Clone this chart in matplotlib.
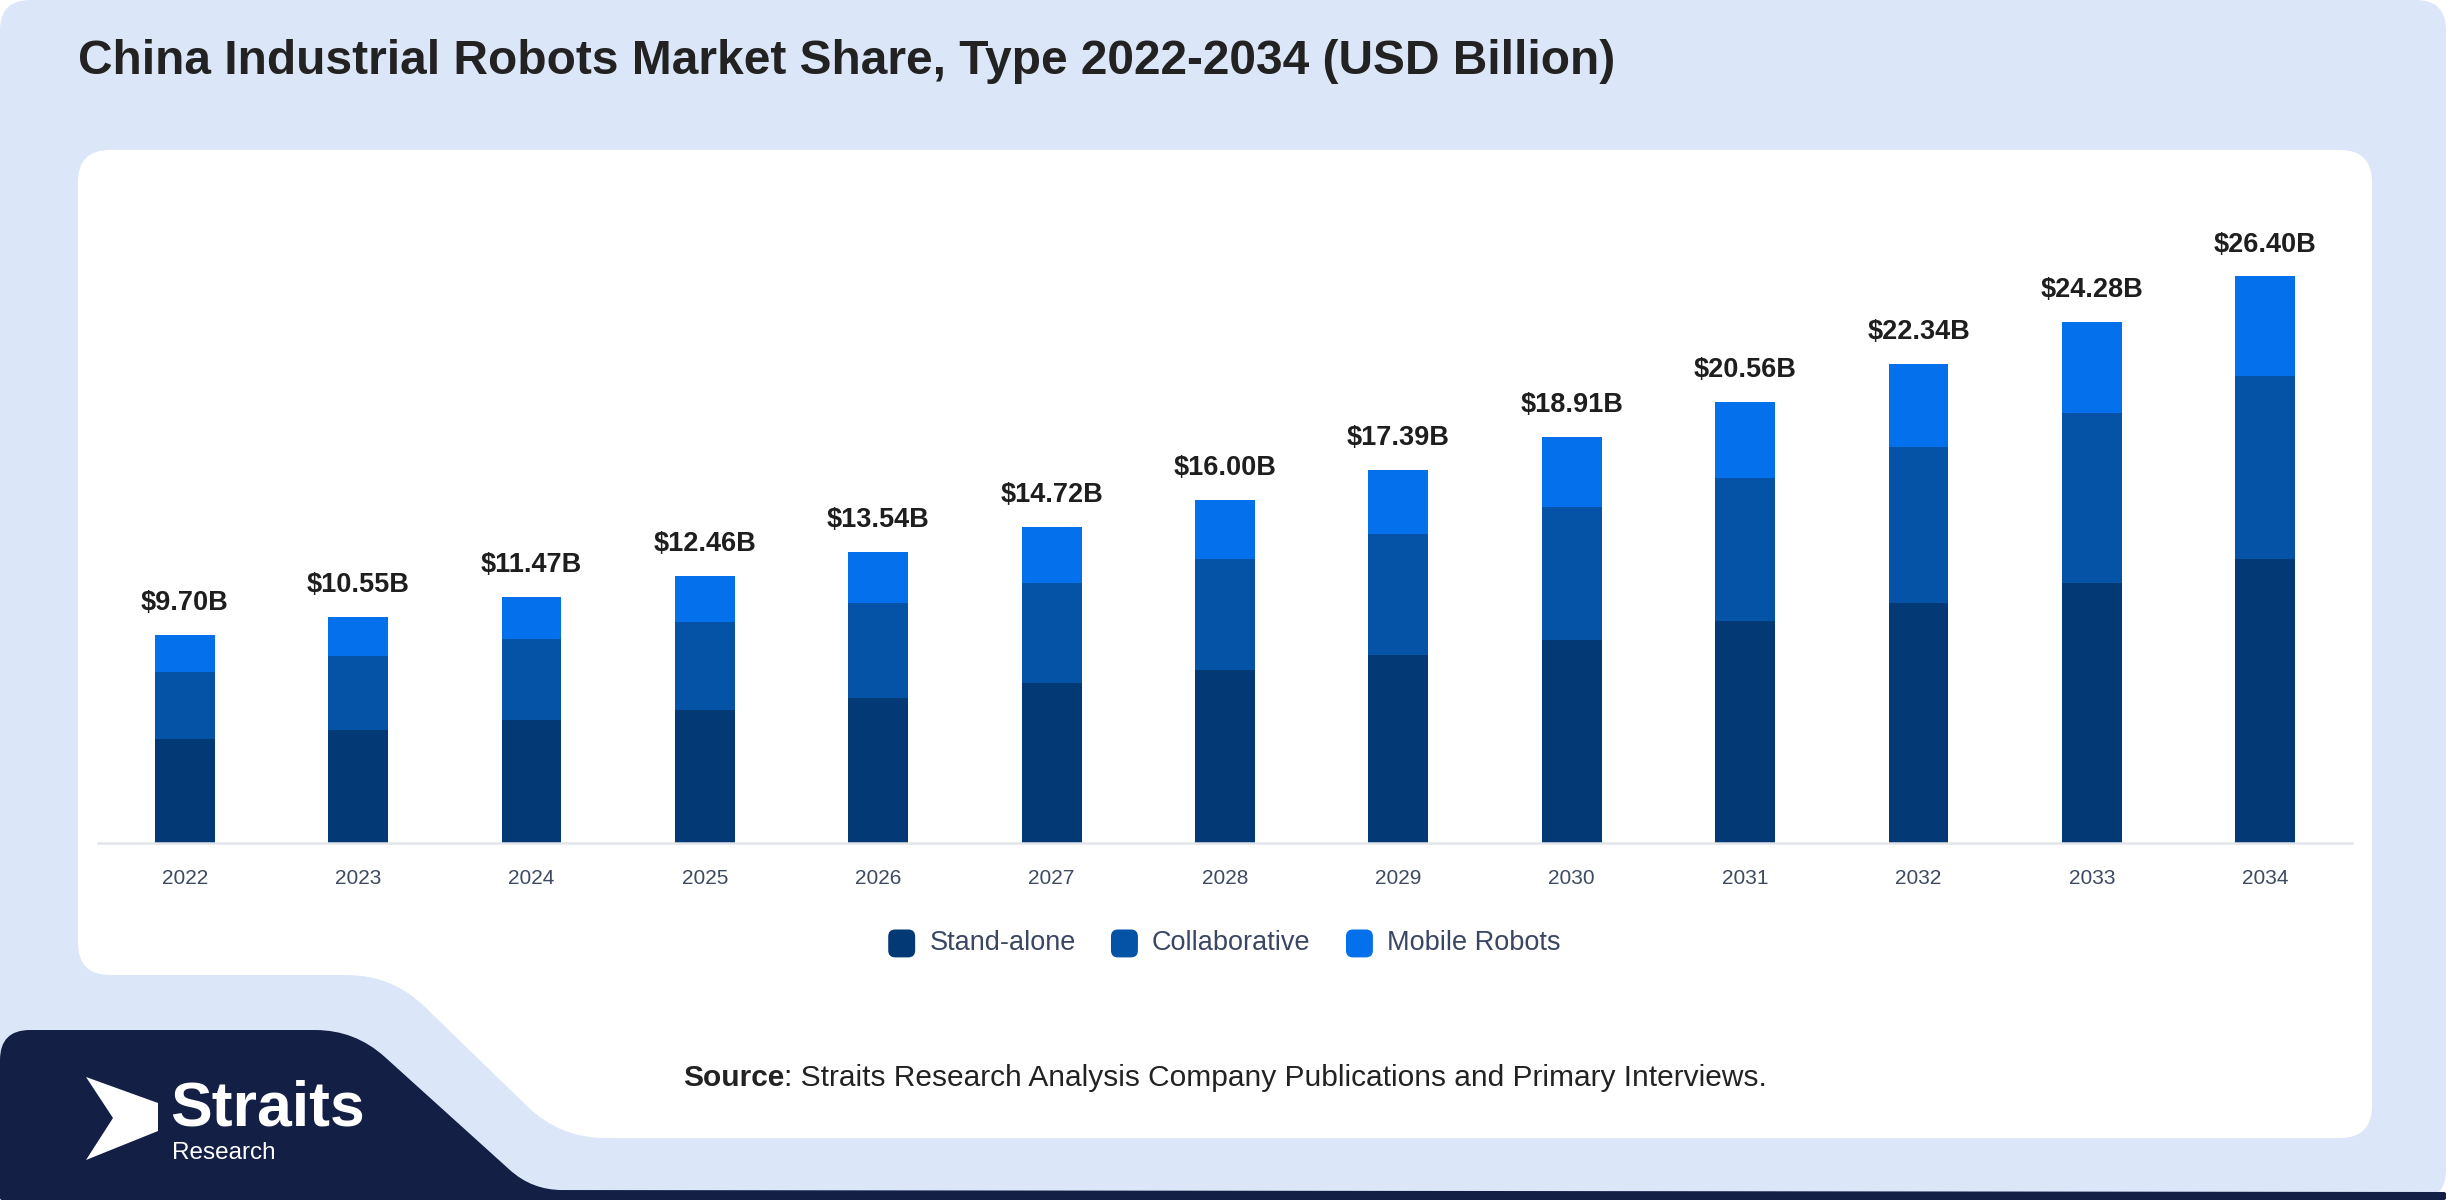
import matplotlib
matplotlib.use("Agg")
import matplotlib.pyplot as plt
from matplotlib.path import Path
from matplotlib.patches import PathPatch, FancyBboxPatch, Patch
from matplotlib.legend_handler import HandlerPatch

plt.rcParams['font.family'] = ['Liberation Sans', 'DejaVu Sans']

# data (USD Billion)
years = ['2022', '2023', '2024', '2025', '2026', '2027', '2028',
         '2029', '2030', '2031', '2032', '2033', '2034']
stand_alone = [4.86, 5.28, 5.71, 6.22, 6.75, 7.47, 8.08, 8.74, 9.47, 10.33, 11.19, 12.12, 13.24]
collaborative = [3.10, 3.43, 3.78, 4.08, 4.44, 4.64, 5.16, 5.66, 6.18, 6.68, 7.26, 7.92, 8.54]
mobile = [1.74, 1.84, 1.98, 2.16, 2.35, 2.61, 2.76, 2.99, 3.26, 3.55, 3.89, 4.24, 4.62]
totals = ['$9.70B', '$10.55B', '$11.47B', '$12.46B', '$13.54B', '$14.72B', '$16.00B',
          '$17.39B', '$18.91B', '$20.56B', '$22.34B', '$24.28B', '$26.40B']
series_names = ['Stand-alone', 'Collaborative', 'Mobile Robots']

c_stand = '#033a76'
c_collab = '#0453a6'
c_mobile = '#0470ec'
light_bg = '#dbe7f9'
navy = '#131f45'

W, H = 2450, 1200
fig = plt.figure(figsize=(W / 100, H / 100), dpi=100, facecolor='white')


def rounded_path(pts, r):
    # polygon with every corner rounded by a quadratic curve
    verts, codes = [], []
    n = len(pts)
    for i in range(n):
        px, py = pts[i - 1]
        cx, cy = pts[i]
        nx, ny = pts[(i + 1) % n]
        r1 = r[i] if isinstance(r, list) else r
        d1 = ((px - cx) ** 2 + (py - cy) ** 2) ** 0.5
        d2 = ((nx - cx) ** 2 + (ny - cy) ** 2) ** 0.5
        a = (cx + (px - cx) * r1 / d1, cy + (py - cy) * r1 / d1)
        b = (cx + (nx - cx) * r1 / d2, cy + (ny - cy) * r1 / d2)
        verts += [a, (cx, cy), b]
        codes += [Path.MOVETO if i == 0 else Path.LINETO, Path.CURVE3, Path.CURVE3]
    verts.append(verts[0])
    codes.append(Path.CLOSEPOLY)
    return Path(verts, codes)


# background layer
bg = fig.add_axes([0, 0, 1, 1], zorder=0)
bg.set_xlim(0, W)
bg.set_ylim(H, 0)
bg.axis('off')

bg.add_patch(PathPatch(rounded_path([(0, 0), (W - 4, 0), (W - 4, H), (0, H)], 30),
                       facecolor=light_bg, edgecolor='none'))
bg.add_patch(PathPatch(rounded_path([(0, 1030), (355, 1030), (532, 1190), (W - 4, 1192),
                                     (W - 4, H), (0, H)], [30, 40, 30, 2, 2, 2]),
                       facecolor=navy, edgecolor='none'))
bg.add_patch(PathPatch(rounded_path([(78, 150), (2372, 150), (2372, 1138), (560, 1138),
                                     (392, 975), (78, 975)], [32, 32, 32, 45, 45, 32]),
                       facecolor='white', edgecolor='none'))

# logo
bg.add_patch(PathPatch(Path([(86, 1077), (158, 1103), (158, 1131), (86, 1160), (113, 1118), (86, 1077)]),
                       facecolor='white', edgecolor='none'))
bg.text(170, 1126, 'Straits', color='white', fontsize=45, fontweight='bold', va='baseline')
bg.text(172, 1159, 'Research', color='white', fontsize=17.5, va='baseline')

# title
fig.text(78 / W, 1 - 62 / H, 'China Industrial Robots Market Share, Type 2022-2034 (USD Billion)',
         fontsize=34.5, fontweight='bold', color='#222222', va='center', ha='left')

# chart
base_y = 843
top_y = 180
px_per_b = 21.46
ax = fig.add_axes([98 / W, 1 - base_y / H, 2254 / W, (base_y - top_y) / H], zorder=2)
ax.patch.set_alpha(0)

x = list(range(len(years)))
bw = 0.345
ax.bar(x, stand_alone, width=bw, color=c_stand)
ax.bar(x, collaborative, width=bw, bottom=stand_alone, color=c_collab)
bot3 = [s + c for s, c in zip(stand_alone, collaborative)]
ax.bar(x, mobile, width=bw, bottom=bot3, color=c_mobile)

for i in x:
    top = bot3[i] + mobile[i]
    ax.annotate(totals[i], (i, top), xytext=(0, 23), textcoords='offset points',
                ha='center', va='center', fontsize=19.5, fontweight='bold', color='#1e1e1e')

ax.set_xlim(-0.5, 12.5)
ax.set_ylim(0, (base_y - top_y) / px_per_b)
ax.set_xticks(x, years)
ax.tick_params(axis='x', length=0, pad=18.5, labelsize=15, labelcolor='#3d4a60')
ax.set_yticks([])
for s in ['top', 'right', 'left']:
    ax.spines[s].set_visible(False)
ax.spines['bottom'].set_color('#e2e5ea')
ax.spines['bottom'].set_linewidth(1.8)


class RoundHandler(HandlerPatch):
    def create_artists(self, legend, orig_handle, xdescent, ydescent, width, height, fontsize, trans):
        p = FancyBboxPatch((-xdescent + 2, -ydescent - 3), width - 4, height + 2,
                           boxstyle='round,pad=0,rounding_size=5',
                           facecolor=orig_handle.get_facecolor(), edgecolor='none', transform=trans)
        return [p]


handles = [Patch(facecolor=c) for c in (c_stand, c_collab, c_mobile)]
leg = fig.legend(handles, series_names, loc='center', bbox_to_anchor=(1223 / W, 1 - 942 / H),
                 ncol=3, frameon=False, fontsize=19.5, handlelength=1.2, handleheight=1.05,
                 handletextpad=0.42, columnspacing=1.2,
                 handler_map={Patch: RoundHandler()})
for t in leg.get_texts():
    t.set_color('#3a4762')

# source line
t1 = fig.text(683 / W, 1 - 1078 / H, 'Source', fontsize=21.5, fontweight='bold', color='#222222',
              va='center', ha='left')
fig.add_artist(plt.Annotation(': Straits Research Analysis Company Publications and Primary Interviews.',
                              xy=(1, 0), xycoords=t1, va='bottom', ha='left',
                              fontsize=21.5, color='#222222'))

fig.savefig('out.png', dpi=100, facecolor='white')
